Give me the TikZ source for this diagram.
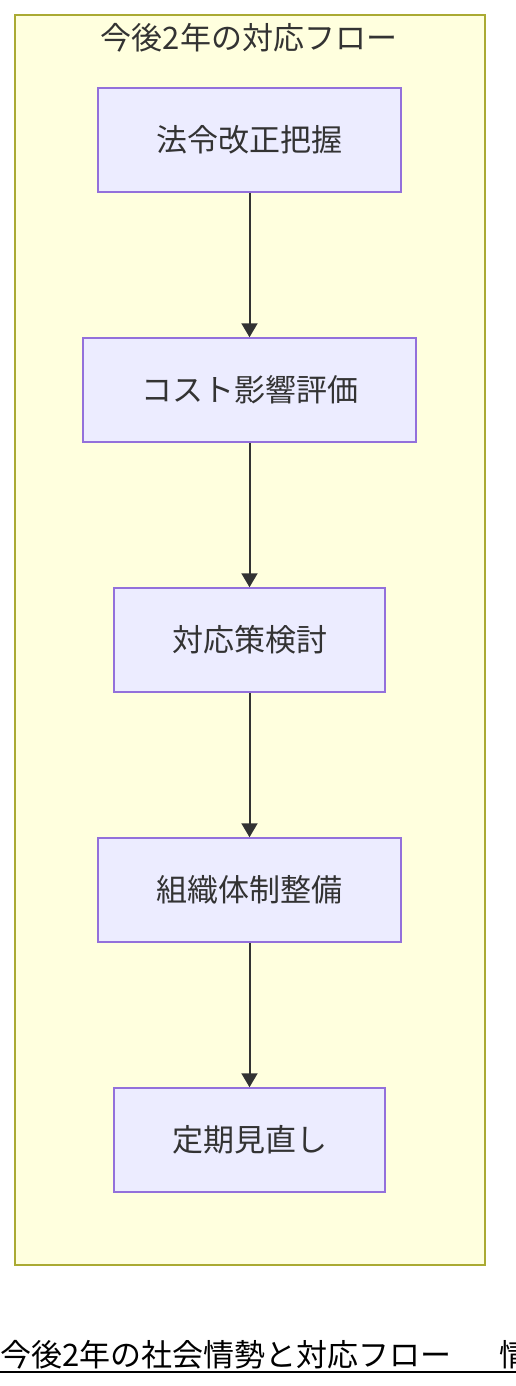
\documentclass[tikz,border=0pt]{standalone}
\usepackage{fontspec}
\newfontfamily\jp{Noto Sans CJK JP}
\usetikzlibrary{arrows.meta}
\definecolor{clfill}{HTML}{FFFFDE}
\definecolor{clline}{HTML}{AAAA33}
\definecolor{ndfill}{HTML}{ECECFF}
\definecolor{ndline}{HTML}{9370DB}
\definecolor{txt}{HTML}{333333}
\tikzset{
  stepbox/.style={draw=ndline, fill=ndfill, line width=1.5bp, minimum height=104bp,
    inner sep=0pt, font=\jp\fontsize{31bp}{34bp}\selectfont, text=txt},
  flow/.style={draw=txt, line width=2bp, -{Triangle[length=14bp,width=16bp]}}
}
\begin{document}
\begin{tikzpicture}[x=1bp,y=-1bp]
\useasboundingbox (0,0) rectangle (516,1386);
\clip (0,0) rectangle (516,1386);
\fill[white] (0,0) rectangle (516,1386);
\node[draw=clline, fill=clfill, line width=1.5bp, minimum width=470bp, minimum height=1250bp, inner sep=0pt] (cluster) at (250,640) {};
\node[font=\jp\fontsize{31bp}{34bp}\selectfont, text=txt] (title) at (249,38) {今後2年の対応フロー};
\node[stepbox, minimum width=303bp] (n1) at (249.5,140) {法令改正把握};
\node[stepbox, minimum width=333bp] (n2) at (249.5,390) {コスト影響評価};
\node[stepbox, minimum width=271bp] (n3) at (249.5,640) {対応策検討};
\node[stepbox, minimum width=303bp] (n4) at (249.5,890) {組織体制整備};
\node[stepbox, minimum width=271bp] (n5) at (249.5,1140) {定期見直し};
\draw[flow] (n1) -- (n2);
\draw[flow] (n2) -- (n3);
\draw[flow] (n3) -- (n4);
\draw[flow] (n4) -- (n5);
\node[anchor=base west, inner sep=0pt, font=\jp\fontsize{31bp}{34bp}\selectfont, text=black] (foot) at (0,1366) {今後2年の社会情勢と対応フロー\hspace{48bp}情勢};
\coordinate (ul1) at (0,1372);
\coordinate (ul2) at (516,1372);
\draw[line width=2bp, black] (ul1) -- (ul2);
\end{tikzpicture}
\end{document}
